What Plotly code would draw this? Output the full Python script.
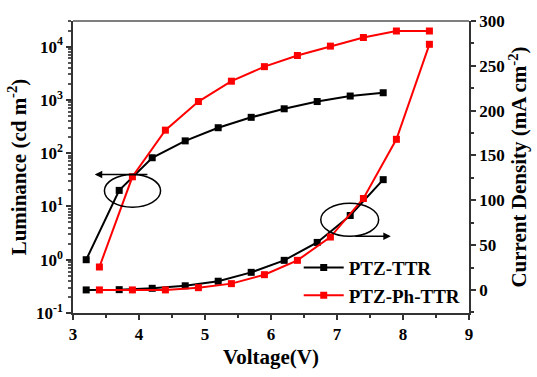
import plotly.graph_objects as go

# Data
v_ttr = [3.2, 3.7, 4.2, 4.7, 5.2, 5.7, 6.2, 6.7, 7.2, 7.7]
lum_ttr = [1.0, 20, 82, 170, 300, 470, 680, 930, 1180, 1360]
j_ttr = [0.0, 0.3, 1.8, 4.6, 9.7, 19.6, 33, 53, 83, 123]

v_ph = [3.4, 3.9, 4.4, 4.9, 5.4, 5.9, 6.4, 6.9, 7.4, 7.9, 8.4]
lum_ph = [0.73, 36, 270, 930, 2240, 4200, 6800, 10200, 14800, 19600, 19600]
j_ph = [0.0, 0.0, 0.0, 2.5, 7, 17, 33, 59, 102, 168, 274]

names = ["PTZ-TTR", "PTZ-Ph-TTR"]
colors = ["black", "#ff0000"]

FONT = "Liberation Serif"

fig = go.Figure()
for name, col, v, lum, j in [(names[0], colors[0], v_ttr, lum_ttr, j_ttr),
                             (names[1], colors[1], v_ph, lum_ph, j_ph)]:
    fig.add_trace(go.Scatter(x=v, y=lum, mode="lines+markers", name=name,
                             line=dict(color=col, width=2),
                             marker=dict(symbol="square", size=7, color=col),
                             showlegend=False, yaxis="y"))
    fig.add_trace(go.Scatter(x=v, y=j, mode="lines+markers", name=name,
                             line=dict(color=col, width=2),
                             marker=dict(symbol="square", size=7, color=col),
                             showlegend=True, yaxis="y2"))

tickfont = dict(family=FONT, size=17, color="black", weight="bold")
titlefont = dict(family=FONT, size=21, color="black", weight="bold")

fig.update_layout(
    width=537, height=377,
    margin=dict(l=73, r=64, t=16, b=58),
    paper_bgcolor="white", plot_bgcolor="white",
    font=dict(family=FONT, color="black", size=17),
    xaxis=dict(range=[3, 9], tickvals=[3, 4, 5, 6, 7, 8, 9],
               ticks="outside", ticklen=5, tickwidth=1.5, tickcolor="#333",
               minor=dict(ticks="outside", ticklen=3, dtick=0.5, tickcolor="#333"),
               showline=True, linecolor="#333", linewidth=1.5, mirror=False,
               showgrid=False, zeroline=False, tickfont=tickfont,
               title=dict(text="Voltage(V)", font=titlefont, standoff=6)),
    yaxis=dict(type="log", range=[-1, 4.48],
               tickvals=[0.1, 1, 10, 100, 1000, 10000],
               ticktext=["10<sup>-1</sup>", "10<sup>0</sup>", "10<sup>1</sup>",
                         "10<sup>2</sup>", "10<sup>3</sup>", "10<sup>4</sup>"],
               ticks="outside", ticklen=5, tickwidth=1.5, tickcolor="#333",
               minor=dict(ticks="outside", ticklen=3, tickcolor="#555",
                          tickvals=[m * 10 ** e for e in range(-1, 5) for m in range(2, 10)]),
               showline=True, linecolor="#333", linewidth=1.5,
               showgrid=False, zeroline=False, tickfont=tickfont,
               title=dict(text="Luminance (cd m<sup>-2</sup>)", font=titlefont, standoff=4)),
    yaxis2=dict(overlaying="y", side="right", range=[-25.75, 300],
                tickvals=[0, 50, 100, 150, 200, 250, 300],
                ticks="outside", ticklen=5, tickwidth=1.5, tickcolor="#333",
                minor=dict(ticks="outside", ticklen=3, dtick=25, tickcolor="#333"),
                showline=True, linecolor="#333", linewidth=1.5,
                showgrid=False, zeroline=False, tickfont=tickfont,
                title=dict(text="Current Density (mA cm<sup>-2</sup>)", font=titlefont, standoff=6)),
    legend=dict(x=0.57, y=0.22, xanchor="left", yanchor="top",
                font=dict(family=FONT, size=19, color="black", weight="bold"),
                bgcolor="rgba(0,0,0,0)", tracegroupgap=0, itemwidth=40),
    shapes=[
        dict(type="line", xref="paper", yref="paper", x0=0, x1=1, y0=1, y1=1,
             line=dict(color="#555", width=1.5)),
        dict(type="circle", xref="x", yref="y2", x0=3.476, x1=4.327, y0=92.3, y1=128.8,
             line=dict(color="black", width=1.5)),
        dict(type="circle", xref="x", yref="y2", x0=6.754, x1=7.631, y0=59.8, y1=96.6,
             line=dict(color="black", width=1.5)),
    ],
    annotations=[
        dict(x=3.33, y=128.8, xref="x", yref="y2", ax=4.15, ay=128.8, axref="x", ayref="y2",
             showarrow=True, arrowhead=2, arrowsize=1, arrowwidth=1.5, arrowcolor="black", text=""),
        dict(x=7.815, y=59.8, xref="x", yref="y2", ax=7.255, ay=59.8, axref="x", ayref="y2",
             showarrow=True, arrowhead=2, arrowsize=1, arrowwidth=1.5, arrowcolor="black", text=""),
    ],
)

fig.write_html("out.html")
